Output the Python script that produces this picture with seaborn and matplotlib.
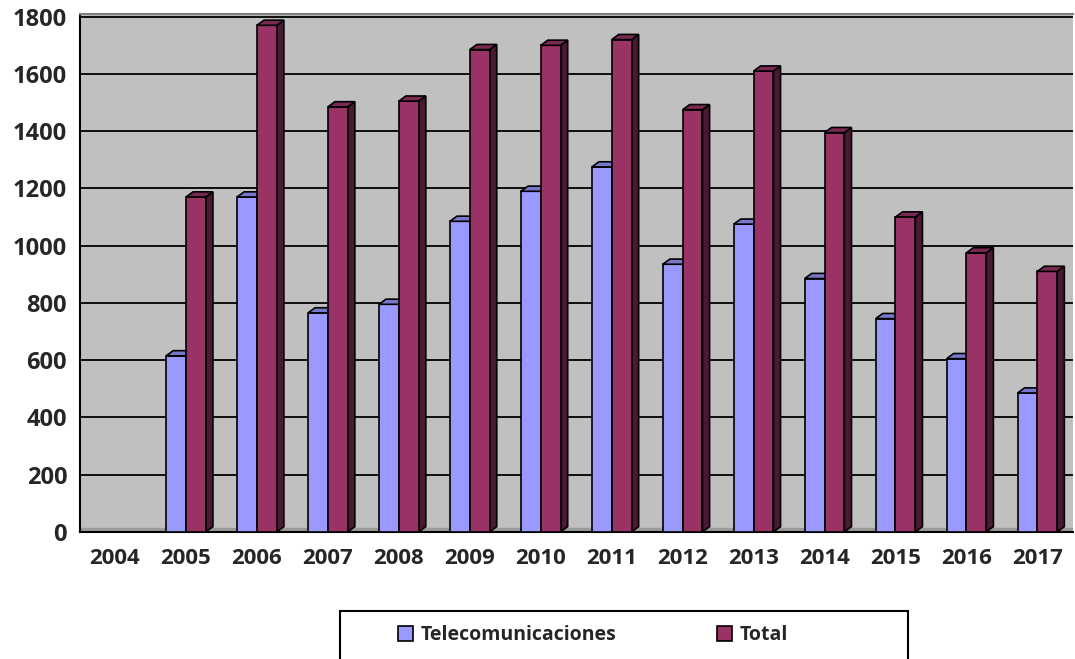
import numpy as np
import pandas as pd
import matplotlib.pyplot as plt
from matplotlib.patches import Polygon, Rectangle
import seaborn as sns

# values (2004 has no data)
years = ["2004", "2005", "2006", "2007", "2008", "2009", "2010",
         "2011", "2012", "2013", "2014", "2015", "2016", "2017"]
telecom = [np.nan, 615, 1170, 765, 795, 1085, 1190, 1275, 935, 1075, 885, 745, 605, 485]
total = [np.nan, 1170, 1770, 1485, 1505, 1685, 1700, 1720, 1475, 1610, 1395, 1100, 975, 910]

series = ["Telecomunicaciones", "Total"]
colors = {"Telecomunicaciones": "#9999FF", "Total": "#993366"}
top_colors = {"Telecomunicaciones": "#7777CC", "Total": "#7A2952"}
side_colors = {"Telecomunicaciones": "#5C5CA0", "Total": "#4A1A33"}

df = pd.DataFrame({
    "year": years * 2,
    "value": telecom + total,
    "serie": [series[0]] * len(years) + [series[1]] * len(years),
})

sns.set_style("white")
plt.rcParams["font.family"] = ["Open Sans", "DejaVu Sans"]

fig = plt.figure(figsize=(10.75, 6.59), dpi=100)
ax = fig.add_axes([0.074, 0.193, 0.924, 0.786])
ax.set_facecolor("#C0C0C0")

sns.barplot(data=df, x="year", y="value", hue="serie", palette=colors,
            saturation=1, width=0.56, gap=0, edgecolor="black", linewidth=1.2,
            legend=False, ax=ax, zorder=3)

# fake 3D: top cap and right side of each bar
dx, dy = 0.1, 18
for i, cont in enumerate(ax.containers):
    name = series[i]
    for bar in cont:
        h = bar.get_height()
        if not np.isfinite(h) or h <= 0:
            continue
        x0 = bar.get_x()
        x1 = x0 + bar.get_width()
        bar.set_zorder(3 + 2 * i)
        top = Polygon([(x0, h), (x0 + dx, h + dy), (x1 + dx, h + dy), (x1, h)],
                      closed=True, facecolor=top_colors[name], edgecolor="black",
                      linewidth=1.2, zorder=3 + 2 * i)
        side = Polygon([(x1, 0), (x1, h), (x1 + dx, h + dy), (x1 + dx, dy)],
                       closed=True, facecolor=side_colors[name], edgecolor="black",
                       linewidth=1.2, zorder=3 + 2 * i - 0.5)
        ax.add_patch(top)
        ax.add_patch(side)

# floor strip
ax.axhspan(0, 12, color="#9A9A9A", zorder=1)

ax.set_ylim(0, 1810)
ax.set_xlim(-0.5, len(years) - 0.5)
ax.set_yticks(range(0, 1801, 200))
ax.yaxis.grid(True, color="black", linewidth=1.3, zorder=0)
ax.set_axisbelow(True)

ax.set_xticks(np.arange(-0.5, len(years), 1), minor=True)
ax.tick_params(axis="x", which="major", length=0, pad=12, labelsize=16)
ax.tick_params(axis="x", which="minor", length=7, width=1.5, direction="out")
ax.tick_params(axis="y", length=6, width=1.5, direction="out", pad=3, labelsize=17)
for lab in ax.get_xticklabels() + ax.get_yticklabels():
    lab.set_fontweight("bold")

for s in ["left", "bottom"]:
    ax.spines[s].set_color("black")
    ax.spines[s].set_linewidth(1.5)
ax.spines["top"].set_color("#808080")
ax.spines["top"].set_linewidth(1.5)
ax.spines["right"].set_visible(False)
ax.set_xlabel("")
ax.set_ylabel("")

# legend
handles = [Rectangle((0, 0), 1, 1, facecolor=colors[s], edgecolor="black", linewidth=1.2)
           for s in series]
fig.legend(handles, series, loc="center left", bbox_to_anchor=(0.354, 0.036),
           ncol=2, frameon=False, columnspacing=5.2, handlelength=0.75, handleheight=0.75,
           handletextpad=0.4, prop={"weight": "bold", "size": 14})
fig.patches.append(Rectangle((340 / 1075, -0.02), 568 / 1075, 0.093,
                             transform=fig.transFigure, fill=False,
                             edgecolor="black", linewidth=1.5))

fig.savefig("out.png", dpi=100)
